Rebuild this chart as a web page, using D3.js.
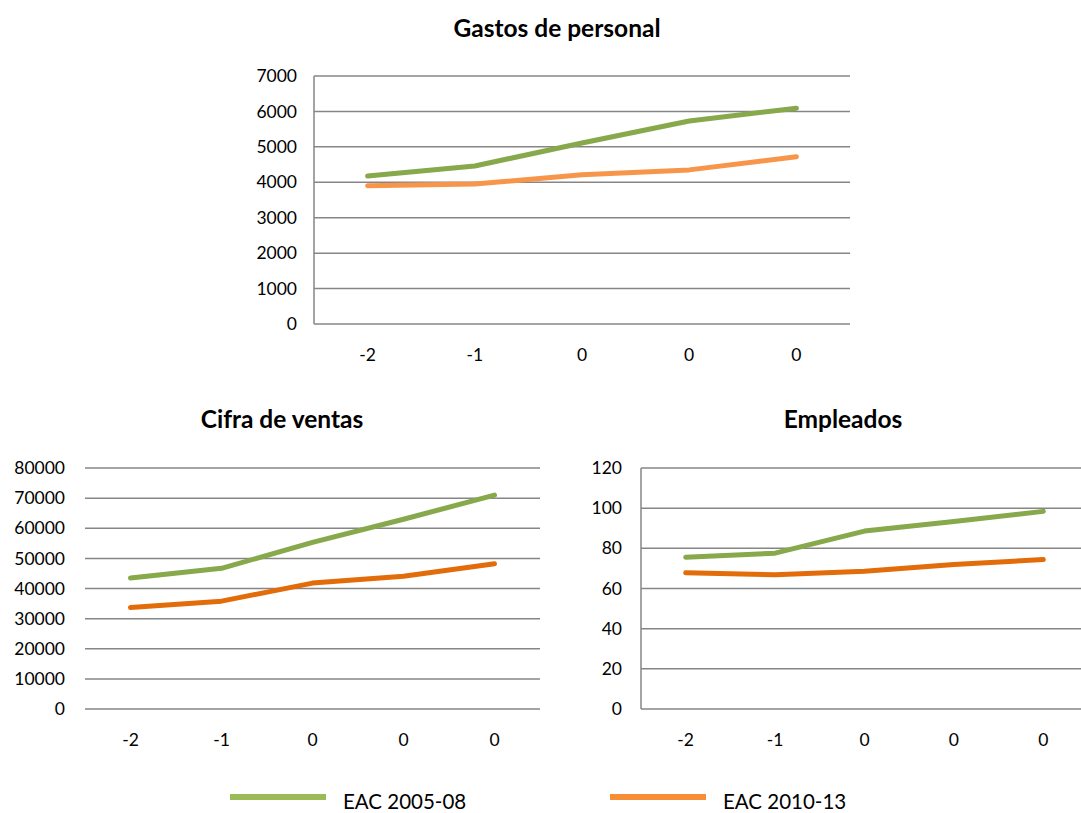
<!DOCTYPE html>
<html>
<head>
<meta charset="utf-8">
<script src="https://cdn.jsdelivr.net/npm/d3@7"></script>
<style>
  body { margin: 0; background: #fff; }
  svg text { font-family: Lato, "Open Sans", sans-serif; fill: #000; }
  .grid line { stroke: #868686; stroke-width: 1.5; }
</style>
</head>
<body>
<svg id="chart" width="1081" height="813"></svg>
<script>
const W = 1081, H = 813;

// x categories (labels as shown in the source)
const periods = ['-2', '-1', '0', '0', '0'];

// Gastos de personal
const gastos0508 = [4180, 4460, 5110, 5730, 6090];
const gastos1013 = [3900, 3950, 4210, 4350, 4720];
const gastosTicks = [0, 1000, 2000, 3000, 4000, 5000, 6000, 7000];

// Cifra de ventas
const ventas0508 = [43500, 46700, 55300, 63000, 71000];
const ventas1013 = [33700, 35800, 41800, 44100, 48200];
const ventasTicks = [0, 10000, 20000, 30000, 40000, 50000, 60000, 70000, 80000];

// Empleados
const empleados0508 = [75.6, 77.6, 88.6, 93.4, 98.4];
const empleados1013 = [67.8, 66.8, 68.6, 72.0, 74.4];
const empleadosTicks = [0, 20, 40, 60, 80, 100, 120];

const seriesNames = ['EAC 2005-08', 'EAC 2010-13'];

const svg = d3.select('#chart');

function drawPanel(opt) {
  const g = svg.append('g');
  const x = d3.scalePoint()
    .domain(d3.range(periods.length))
    .range([opt.left, opt.right])
    .padding(0.5);
  const y = d3.scaleLinear()
    .domain([0, d3.max(opt.ticks)])
    .range([opt.bottom, opt.top]);

  // gridlines
  g.append('g')
    .attr('class', 'grid')
    .selectAll('line')
    .data(opt.ticks)
    .join('line')
    .attr('x1', opt.left)
    .attr('x2', opt.right)
    .attr('y1', d => y(d))
    .attr('y2', d => y(d));

  if (opt.vaxis) {
    g.append('line')
      .attr('x1', opt.left).attr('x2', opt.left)
      .attr('y1', opt.top).attr('y2', opt.bottom)
      .attr('stroke', '#868686').attr('stroke-width', 1.5);
  }

  // y labels
  g.append('g')
    .selectAll('text')
    .data(opt.ticks)
    .join('text')
    .attr('x', opt.labelX)
    .attr('y', d => y(d))
    .attr('dy', '0.35em')
    .attr('text-anchor', 'end')
    .style('font-size', '17.5px')
    .text(d => d);

  // x labels
  g.append('g')
    .selectAll('text')
    .data(periods)
    .join('text')
    .attr('x', (d, i) => x(i))
    .attr('y', opt.bottom + 31)
    .attr('dy', '0.35em')
    .attr('text-anchor', 'middle')
    .style('font-size', '17.5px')
    .text(d => d);

  // title
  g.append('text')
    .attr('x', opt.titleX)
    .attr('y', opt.titleY)
    .attr('text-anchor', 'middle')
    .style('font-size', '24.5px')
    .style('font-weight', 'bold')
    .text(opt.title);

  const line = d3.line()
    .x((d, i) => x(i))
    .y(d => y(d));

  opt.series.forEach((vals, k) => {
    g.append('path')
      .datum(vals)
      .attr('d', line)
      .attr('fill', 'none')
      .attr('stroke', opt.colors[k])
      .attr('stroke-width', 5)
      .attr('stroke-linejoin', 'round')
      .attr('stroke-linecap', 'round');
  });
}

drawPanel({
  title: 'Gastos de personal', titleX: 557, titleY: 37,
  left: 314, right: 850, top: 76, bottom: 324, labelX: 297,
  ticks: gastosTicks, vaxis: true,
  series: [gastos0508, gastos1013],
  colors: ['#87A84B', '#F7964A']
});

drawPanel({
  title: 'Cifra de ventas', titleX: 282, titleY: 428,
  left: 85, right: 540, top: 468, bottom: 709, labelX: 65,
  ticks: ventasTicks, vaxis: false,
  series: [ventas0508, ventas1013],
  colors: ['#87A84B', '#E36C0A']
});

drawPanel({
  title: 'Empleados', titleX: 843, titleY: 428,
  left: 641, right: 1088, top: 468, bottom: 709, labelX: 622,
  ticks: empleadosTicks, vaxis: true,
  series: [empleados0508, empleados1013],
  colors: ['#87A84B', '#E36C0A']
});

// legend
const legendColors = ['#9BBB59', '#F68E37'];
const legendX = [230, 610];
const legend = svg.append('g');
seriesNames.forEach((name, i) => {
  legend.append('line')
    .attr('x1', legendX[i]).attr('x2', legendX[i] + 96)
    .attr('y1', 797).attr('y2', 797)
    .attr('stroke', legendColors[i]).attr('stroke-width', 6);
  legend.append('text')
    .attr('x', legendX[i] + 113)
    .attr('y', 809)
    .style('font-size', '20.5px')
    .text(name);
});
</script>
</body>
</html>
